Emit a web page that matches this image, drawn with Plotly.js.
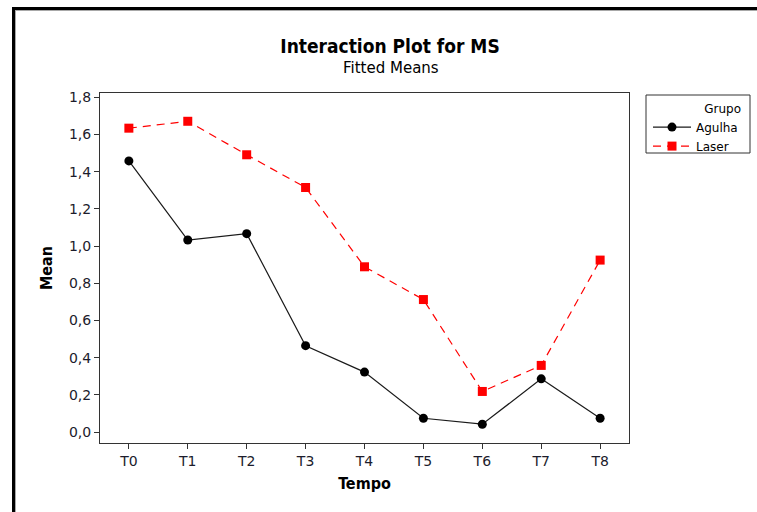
<!DOCTYPE html>
<html>
<head>
<meta charset="utf-8">
<script src="https://cdn.plot.ly/plotly-3.0.1.min.js"></script>
<style>
  html, body { margin: 0; padding: 0; background: #fff; }
  #wrap { position: relative; width: 757px; height: 512px; overflow: hidden; }
  #chart { position: absolute; left: 0; top: 0; width: 757px; height: 512px; }
  /* window frame along the left and top edges */
  #frame { position: absolute; left: 12px; top: 7px; right: -10px; bottom: -10px;
           border-left: 3px solid #000; border-top: 3px solid #000; pointer-events: none; }
  #frame div { position: absolute; left: 0; top: 0; right: 0; bottom: 0;
               border-left: 1px solid #a8a8a8; border-top: 1px solid #a8a8a8; }
</style>
</head>
<body>
<div id="wrap">
  <div id="chart"></div>
  <div id="frame"><div></div></div>
</div>
<script>
// Fitted means of MS by time point and group
const tempo  = ['T0', 'T1', 'T2', 'T3', 'T4', 'T5', 'T6', 'T7', 'T8'];
const agulha = [1.458, 1.033, 1.067, 0.465, 0.323, 0.075, 0.043, 0.287, 0.075];
const laser  = [1.634, 1.671, 1.491, 1.315, 0.889, 0.713, 0.219, 0.359, 0.925];
const yTicks = [0, 0.2, 0.4, 0.6, 0.8, 1.0, 1.2, 1.4, 1.6, 1.8];

const boldFont = 'DejaVu Sans Condensed, Liberation Sans Narrow, DejaVu Sans, sans-serif';
const txtFont  = 'DejaVu Sans, Verdana, sans-serif';
const axisCol  = '#333333';
const tickCol  = '#1c1c2c';

// plot area in pixels: x 100..629, y 93..443
const px = v => (v - 100) / 529;
const py = v => (443 - v) / 350;

const traces = [
  {
    x: tempo, y: agulha, name: 'Agulha', type: 'scatter', mode: 'lines+markers',
    line: { color: '#1a1a1a', width: 1.2 },
    marker: { symbol: 'circle', size: 9, color: '#000000' }
  },
  {
    x: tempo, y: laser, name: 'Laser', type: 'scatter', mode: 'lines+markers',
    line: { color: '#ff0000', width: 1.2, dash: '8px,6px' },
    marker: { symbol: 'square', size: 9, color: '#ff0000' }
  }
];

const layout = {
  width: 757, height: 512,
  margin: { l: 100, r: 128, t: 93, b: 69, pad: 0 },
  paper_bgcolor: '#ffffff', plot_bgcolor: '#ffffff',
  separators: ',.',
  font: { family: txtFont, size: 14, color: tickCol },
  showlegend: true,
  title: {
    text: '<b>Interaction Plot for MS</b>',
    font: { family: boldFont, size: 19, color: '#000000' },
    xref: 'container', yref: 'container',
    x: 390 / 757, xanchor: 'center',
    y: 1 - 46 / 512, yanchor: 'middle'
  },
  annotations: [{
    text: 'Fitted Means', showarrow: false,
    xref: 'paper', yref: 'paper',
    x: px(391), y: py(68),
    xanchor: 'center', yanchor: 'middle',
    font: { family: txtFont, size: 15, color: '#000000' }
  }],
  shapes: [{
    // legend box
    type: 'rect', xref: 'paper', yref: 'paper',
    x0: px(646), x1: px(750), y0: py(153), y1: py(95),
    line: { color: axisCol, width: 1 }, fillcolor: 'rgba(0,0,0,0)'
  }],
  xaxis: {
    type: 'category',
    range: [-0.49, 8.49],
    showgrid: false, zeroline: false,
    showline: true, mirror: true, linecolor: axisCol, linewidth: 1,
    ticks: 'outside', ticklen: 5, tickcolor: axisCol, tickwidth: 1,
    tickfont: { family: txtFont, size: 14, color: tickCol },
    title: { text: '<b>Tempo</b>', standoff: 10,
             font: { family: boldFont, size: 16, color: '#000000' } }
  },
  yaxis: {
    range: [-0.058, 1.823],
    tickmode: 'array', tickvals: yTicks, tickformat: '.1f',
    showgrid: false, zeroline: false,
    showline: true, mirror: true, linecolor: axisCol, linewidth: 1,
    ticks: 'outside', ticklen: 5, tickcolor: axisCol, tickwidth: 1,
    tickfont: { family: txtFont, size: 14, color: tickCol },
    title: { text: '<b>Mean</b>', standoff: 12,
             font: { family: boldFont, size: 16, color: '#000000' } }
  },
  legend: {
    x: px(648), y: py(97),
    xanchor: 'left', yanchor: 'top',
    borderwidth: 0, bgcolor: 'rgba(0,0,0,0)',
    font: { family: txtFont, size: 12, color: '#000000' },
    title: { text: 'Grupo', side: 'top right',
             font: { family: txtFont, size: 12, color: '#000000' } },
    tracegroupgap: 0, itemwidth: 38
  }
};

Plotly.newPlot('chart', traces, layout, { staticPlot: true, displayModeBar: false });
</script>
</body>
</html>
